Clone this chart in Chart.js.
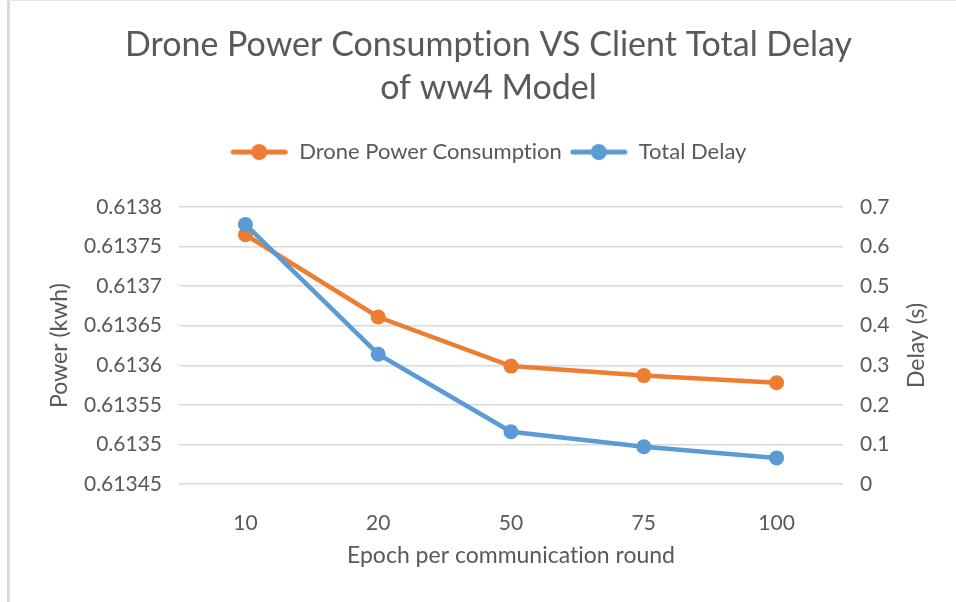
<!DOCTYPE html>
<html>
<head>
<meta charset="utf-8">
<script src="https://cdn.jsdelivr.net/npm/chart.js@4.4.1/dist/chart.umd.min.js"></script>
<style>
    html, body { margin: 0; padding: 0; background: #fff; }
    #wrap { width: 956px; height: 602px; }
</style>
</head>
<body>
<div id="wrap"><canvas id="powerChart" width="956" height="602"></canvas></div>
<script>
const epochs = ['10', '20', '50', '75', '100'];
const powerValues = [0.613765, 0.613661, 0.613599, 0.613587, 0.613578];
const delayValues = [0.656, 0.328, 0.132, 0.094, 0.066];
const powerTicks = [0.61345, 0.6135, 0.61355, 0.6136, 0.61365, 0.6137, 0.61375, 0.6138];
const delayTicks = [0, 0.1, 0.2, 0.3, 0.4, 0.5, 0.6, 0.7];

const ORANGE = '#ED7D31';
const BLUE = '#5B9BD5';
const TEXT = '#595959';
const GRID = '#D9D9D9';
const FONT = 'Lato';

// little line-with-dot marker used in the legend
function legendIcon(color) {
    const c = document.createElement('canvas');
    c.width = 58;
    c.height = 18;
    const ctx = c.getContext('2d');
    ctx.strokeStyle = color;
    ctx.lineWidth = 5;
    ctx.lineCap = 'round';
    ctx.beginPath();
    ctx.moveTo(3, 9);
    ctx.lineTo(55, 9);
    ctx.stroke();
    ctx.fillStyle = color;
    ctx.beginPath();
    ctx.arc(29, 9, 8, 0, Math.PI * 2);
    ctx.fill();
    return c;
}

const icons = [legendIcon(ORANGE), legendIcon(BLUE)];

// page frame + right axis title (reads bottom to top)
const extras = {
    id: 'extras',
    beforeInit(chart) {
        // no "ti" ligature in Consumption
        chart.ctx.textRendering = 'optimizeSpeed';
    },
    beforeDraw(chart) {
        const ctx = chart.ctx;
        ctx.textRendering = 'optimizeSpeed';
        ctx.save();
        ctx.fillStyle = '#fff';
        ctx.fillRect(0, 0, chart.width, chart.height);
        ctx.fillStyle = GRID;
        ctx.fillRect(7, 0, 3, chart.height);
        ctx.fillStyle = '#E6E6E6';
        ctx.fillRect(7, 0, chart.width - 7, 1);
        ctx.restore();
    },
    afterDraw(chart) {
        const s = chart.scales.y1;
        const area = chart.chartArea;
        const ctx = chart.ctx;
        ctx.save();
        ctx.translate(s.right - 14, (area.top + area.bottom) / 2);
        ctx.rotate(-Math.PI / 2);
        ctx.fillStyle = TEXT;
        ctx.font = '23px ' + FONT;
        ctx.textAlign = 'center';
        ctx.textBaseline = 'middle';
        ctx.fillText('Delay (s)', 0, 0);
        ctx.restore();
    }
};

new Chart(document.getElementById('powerChart'), {
    type: 'line',
    data: {
        labels: epochs,
        datasets: [{
            label: 'Drone Power Consumption',
            data: powerValues,
            yAxisID: 'y',
            borderColor: ORANGE,
            backgroundColor: ORANGE,
            borderWidth: 4.5,
            pointRadius: 7.5,
            pointBorderWidth: 0,
            tension: 0,
            order: 1
        }, {
            label: 'Total Delay',
            data: delayValues,
            yAxisID: 'y1',
            borderColor: BLUE,
            backgroundColor: BLUE,
            borderWidth: 4.5,
            pointRadius: 7.5,
            pointBorderWidth: 0,
            tension: 0,
            order: 0
        }]
    },
    options: {
        responsive: false,
        animation: false,
        events: [],
        layout: { padding: { left: 46, right: 25, top: 0, bottom: 33 } },
        plugins: {
            title: {
                display: true,
                text: ['Drone Power Consumption VS Client Total Delay', 'of ww4 Model'],
                color: TEXT,
                font: { family: FONT, size: 34, weight: 'normal', lineHeight: 1.265 },
                padding: { top: 24, bottom: 23 }
            },
            legend: {
                display: true,
                position: 'top',
                labels: {
                    usePointStyle: true,
                    pointStyleWidth: 58,
                    padding: 8,
                    color: TEXT,
                    font: { family: FONT, size: 22 },
                    generateLabels: () => ['Drone Power Consumption', 'Total Delay'].map((text, i) => ({
                        text: text,
                        pointStyle: icons[i],
                        fillStyle: i ? BLUE : ORANGE,
                        strokeStyle: i ? BLUE : ORANGE,
                        lineWidth: 0,
                        fontColor: TEXT,
                        hidden: false,
                        datasetIndex: i
                    }))
                }
            },
            tooltip: { enabled: false }
        },
        scales: {
            x: {
                offset: true,
                grid: { display: false },
                border: { display: false },
                ticks: { color: TEXT, font: { family: FONT, size: 21 }, padding: 19 },
                title: {
                    display: true,
                    text: 'Epoch per communication round',
                    color: TEXT,
                    font: { family: FONT, size: 23 },
                    padding: 0
                },
                afterFit: s => { s.height = 85; }
            },
            // spacer between legend and plot
            gap: {
                type: 'category',
                position: 'top',
                ticks: { display: false },
                grid: { display: false },
                border: { display: false },
                afterFit: s => { s.height = 34; }
            },
            y: {
                position: 'left',
                min: 0.61345,
                max: 0.6138,
                grid: { color: GRID, lineWidth: 1.5, drawTicks: false },
                border: { display: false },
                ticks: {
                    color: TEXT,
                    font: { family: FONT, size: 21 },
                    padding: 17,
                    callback: v => String(Number(v.toFixed(5)))
                },
                afterBuildTicks: s => { s.ticks = powerTicks.map(v => ({ value: v })); },
                title: {
                    display: true,
                    text: 'Power (kwh)',
                    color: TEXT,
                    font: { family: FONT, size: 23 },
                    padding: 0
                },
                afterFit: s => { s.width = 133; }
            },
            y1: {
                position: 'right',
                min: 0,
                max: 0.7,
                grid: { display: false, drawTicks: false },
                border: { display: false },
                ticks: {
                    color: TEXT,
                    font: { family: FONT, size: 21 },
                    padding: 17,
                    callback: v => String(Number(v.toFixed(1)))
                },
                afterBuildTicks: s => { s.ticks = delayTicks.map(v => ({ value: v })); },
                afterFit: s => { s.width = 88; }
            }
        }
    },
    plugins: [extras]
});
</script>
</body>
</html>
